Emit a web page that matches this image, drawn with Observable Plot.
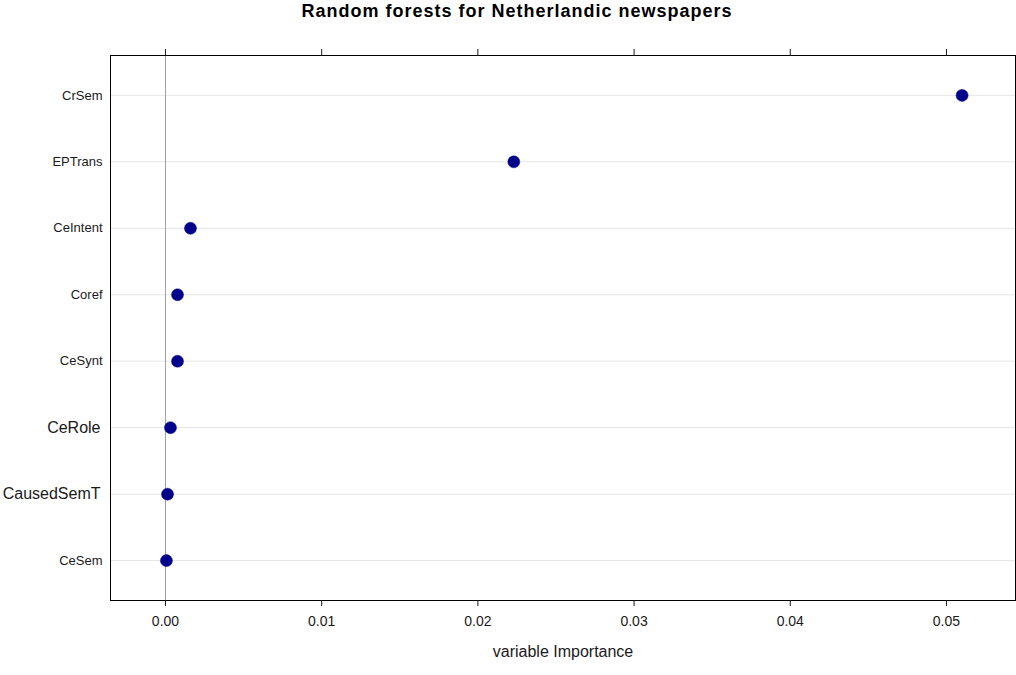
<!DOCTYPE html>
<html>
<head>
<meta charset="utf-8">
<script src="https://cdn.jsdelivr.net/npm/d3@7"></script>
<script src="https://cdn.jsdelivr.net/npm/@observablehq/plot@0.6"></script>
<style>
  body { margin: 0; background: #fff; font-family: "Liberation Sans", Arial, sans-serif; }
  #title { height: 40px; width: 1016px; box-sizing: border-box; padding-left: 18px; text-align: center;
           font-weight: bold; font-size: 18px; letter-spacing: 1px; line-height: 22px; color: #000; }
</style>
</head>
<body>
<div id="title">Random forests for Netherlandic newspapers</div>
<div id="chart"></div>
<script>
const variables = ["CrSem", "EPTrans", "CeIntent", "Coref", "CeSynt", "CeRole", "CausedSemT", "CeSem"];
const importance = [0.0510, 0.0223, 0.0016, 0.00077, 0.00077, 0.00032, 0.00013, 0.00006];
const xTicks = [0, 0.01, 0.02, 0.03, 0.04, 0.05];
const largeLabels = ["CeRole", "CausedSemT"];
const smallLabels = variables.filter(v => !largeLabels.includes(v));

const data = variables.map((v, i) => ({variable: v, value: importance[i]}));

const chart = Plot.plot({
  width: 1016,
  height: 635,
  marginTop: 15,
  marginBottom: 75,
  marginLeft: 110,
  marginRight: 1,
  style: {fontFamily: "'Liberation Sans', Arial, sans-serif", color: "#1a1a1a", background: "#fff"},
  x: {domain: [-0.00352, 0.05442]},
  y: {type: "point", domain: variables, padding: 0.6, round: false},
  marks: [
    Plot.gridY({stroke: "#e6e6e6", strokeOpacity: 1}),
    Plot.ruleX([0], {stroke: "#a0a0a0", strokeWidth: 1}),
    Plot.dot(data, {x: "value", y: "variable", r: 6, fill: "#00008B", stroke: "#00008B", strokeWidth: 0.5}),
    Plot.frame({stroke: "#000", strokeWidth: 1}),
    Plot.axisX({anchor: "bottom", ticks: xTicks, tickFormat: d3.format(".2f"), tickSize: 6, tickPadding: 10,
                fontSize: 14, label: null}),
    Plot.axisX({anchor: "bottom", ticks: [], tickSize: 0, fontSize: 16, label: "variable Importance",
                labelAnchor: "center", labelArrow: "none", labelOffset: 56}),
    Plot.axisX({anchor: "top", ticks: xTicks, tickFormat: () => "", tickSize: 7, label: null}),
    Plot.axisY({ticks: smallLabels, tickSize: 0, tickPadding: 8, fontSize: 13, label: null}),
    Plot.axisY({ticks: largeLabels, tickSize: 0, tickPadding: 10, fontSize: 16, label: null})
  ]
});
document.getElementById("chart").appendChild(chart);
</script>
</body>
</html>
